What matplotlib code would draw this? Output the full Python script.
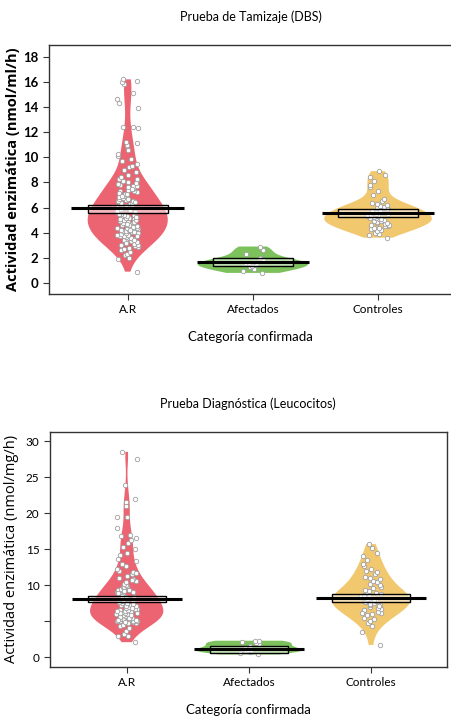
#!/usr/bin/env python3
"""Pirate-style plots (bean + points + mean line + inference band) for two enzyme assays."""
import numpy as np
import matplotlib
matplotlib.use("Agg")
import matplotlib.pyplot as plt
from matplotlib.patches import Rectangle

# ---- data ------------------------------------------------------------------
categories = ["A.R", "Afectados", "Controles"]

# Prueba de Tamizaje (DBS), nmol/ml/h
ar_dbs = [
    0.9, 1.9, 2.0, 2.2, 2.3, 2.5, 2.6, 2.7, 2.8, 2.9, 2.95, 3.0,
    3.05, 3.1, 3.2, 3.25, 3.3, 3.35, 3.4, 3.5, 3.55, 3.6, 3.65, 3.7,
    3.75, 3.8, 3.85, 3.9, 3.95, 4.0, 4.05, 4.1, 4.15, 4.2, 4.25, 4.3,
    4.35, 4.4, 4.45, 4.5, 4.55, 4.6, 4.65, 4.7, 4.75, 4.8, 4.85, 4.9,
    4.95, 5.0, 5.05, 5.1, 5.15, 5.2, 5.25, 5.3, 5.35, 5.4, 5.45, 5.5,
    5.55, 5.6, 5.65, 5.7, 5.75, 5.8, 5.85, 5.9, 5.95, 6.0, 6.05, 6.1,
    6.15, 6.2, 6.25, 6.3, 6.35, 6.4, 6.5, 6.55, 6.6, 6.7, 6.75, 6.8,
    6.9, 7.0, 7.05, 7.1, 7.2, 7.3, 7.35, 7.4, 7.5, 7.6, 7.7, 7.75,
    7.8, 7.9, 8.0, 8.1, 8.2, 8.3, 8.4, 8.6, 8.8, 9.0, 9.2, 9.3,
    9.5, 9.7, 9.9, 10.1, 10.3, 10.6, 10.9, 11.0, 11.1, 11.2, 12.3, 12.4,
    12.4, 13.9, 14.3, 14.6, 15.1, 15.8, 16.0, 16.1, 16.2,
    3.15, 3.45, 4.12, 4.38, 4.62, 4.88, 5.12, 5.38, 5.62, 5.88, 6.12,
    4.02, 4.48, 5.02, 5.48, 6.02, 6.45, 3.72, 4.22, 4.72, 5.22, 5.72,
    7.15, 7.45, 7.65, 7.95, 8.25, 6.65, 6.95,
]
afect_dbs = [0.8, 0.95, 1.1, 1.25, 1.35, 1.45, 1.55, 1.6, 1.7, 1.8, 1.95, 2.3, 2.6, 2.9]
ctrl_dbs = [
    3.6, 3.8, 3.9, 4.0, 4.1, 4.2, 4.3, 4.35, 4.4, 4.5, 4.55, 4.6,
    4.65, 4.7, 4.75, 4.8, 4.85, 4.9, 4.95, 5.0, 5.05, 5.1, 5.15, 5.2,
    5.25, 5.3, 5.35, 5.4, 5.45, 5.5, 5.55, 5.6, 5.65, 5.7, 5.8, 5.85,
    5.9, 6.0, 6.05, 6.1, 6.2, 6.3, 6.4, 6.5, 6.7, 7.0, 7.3,
    7.6, 7.8, 8.1, 8.4, 8.6, 8.9,
]
dbs_mean = [5.95, 1.67, 5.55]
dbs_low = [5.6, 1.35, 5.23]
dbs_high = [6.2, 2.0, 5.87]

# Prueba Diagnóstica (Leucocitos), nmol/mg/h
ar_leu = [
    2.1, 2.9, 3.0, 3.2, 3.6, 4.0, 4.3, 4.5, 4.7, 4.8, 4.9, 5.0,
    5.0, 5.1, 5.1, 5.2, 5.2, 5.3, 5.3, 5.4, 5.5, 5.6, 5.7, 5.8,
    5.9, 5.95, 6.0, 6.05, 6.1, 6.2, 6.3, 6.35, 6.4, 6.5, 6.6, 6.7,
    6.75, 6.8, 6.9, 7.0, 7.1, 7.15, 7.2, 7.3, 7.4, 7.5, 7.55, 7.6,
    7.7, 7.8, 7.9, 8.0, 8.1, 8.2, 8.3, 8.4, 8.5, 8.6, 8.7, 8.8,
    8.9, 9.0, 9.1, 9.2, 9.3, 9.4, 9.5, 9.6, 9.7, 9.8, 9.9, 8.05,
    5.05, 5.25, 5.45, 5.65, 5.85, 6.15, 6.45, 6.85, 4.95, 5.15,
    8.45, 8.85, 9.25, 10.0, 10.2, 10.4, 10.6, 10.9,
    11.0, 11.3, 11.5, 11.8, 10.7, 11.7,
    12.0, 12.2, 12.7, 13.0, 13.3, 13.7, 14.2, 14.5,
    15.0, 15.3, 15.9, 16.3, 16.6, 16.8, 17.0, 18.0, 19.4, 19.5, 21.0,
    21.5, 21.9, 23.9, 27.5, 28.5,
]
afect_leu = [0.4, 0.6, 0.75, 0.85, 0.95, 1.05, 1.2, 1.35, 1.5, 1.8, 2.0, 2.1, 2.2, 2.3]
ctrl_leu = [
    1.7, 3.5, 4.3, 4.8, 5.0, 5.3, 5.5, 5.8, 6.0, 6.2, 6.3, 6.5,
    6.7, 6.9, 7.0, 7.2, 7.3, 7.5, 7.6, 7.8, 7.9, 8.0, 8.1, 8.2,
    8.3, 8.4, 8.5, 8.6, 8.7, 8.8, 8.9, 9.0, 9.2, 9.4, 9.6, 9.8,
    10.0, 10.2, 10.4, 10.6, 10.8, 11.0, 11.2, 11.5, 11.8, 12.0, 12.3, 12.7,
    13.0, 13.5, 14.0, 14.5, 15.1, 15.7,
    7.1, 7.4, 7.7, 8.15, 8.45, 6.6, 6.1,
]
leu_mean = [8.04, 1.1, 8.27]
leu_low = [7.63, 0.55, 7.7]
leu_high = [8.55, 1.57, 8.8]

COLORS = ["#EC6471", "#7CC15C", "#F2C86F"]
TICKF = ["Lato", "DejaVu Sans"]
LABEL = ["Open Sans", "DejaVu Sans"]


def spread(n, half=0.085):
    # deterministic horizontal scatter for the points (display only)
    i = np.arange(1, n + 1)
    frac = (np.sin(i * 12.9898) * 43758.5453) % 1.0
    return (frac - 0.5) * 2 * half


def draw_panel(ax, groups, means, lows, highs, widths, bws):
    pos = np.arange(1, len(groups) + 1)
    for p, vals, w, bw, c in zip(pos, groups, widths, bws, COLORS):
        parts = ax.violinplot([vals], positions=[p], widths=w, bw_method=bw,
                              showextrema=False)
        for body in parts["bodies"]:
            body.set_facecolor(c)
            body.set_edgecolor("none")
            body.set_alpha(1)
            body.set_zorder(1)
        ax.plot(p + spread(len(vals)), vals, "o", ms=3.2, mfc="white",
                mec="#a0a0a0", mew=0.6, zorder=2)

    for p, m, lo, hi in zip(pos, means, lows, highs):
        ax.add_patch(Rectangle((p - 0.32, lo), 0.64, hi - lo,
                               facecolor="white", alpha=0.55, zorder=3))
        ax.add_patch(Rectangle((p - 0.32, lo), 0.64, hi - lo,
                               facecolor="none", edgecolor="black",
                               lw=1.0, zorder=4))
        ax.plot([p - 0.45, p + 0.45], [m, m], color="black", lw=2.2,
                solid_capstyle="butt", zorder=5)

    ax.set_xticks(pos)
    ax.set_xticklabels(categories, family=TICKF, fontsize=8.5)
    ax.tick_params(length=4, width=0.8, color="#333333")


fig = plt.figure(figsize=(4.52, 7.17), dpi=100)

# --- top panel ---
ax1 = fig.add_axes([0.1084, 0.59, 0.8916, 0.3472])
draw_panel(ax1, [ar_dbs, afect_dbs, ctrl_dbs], dbs_mean, dbs_low, dbs_high,
           widths=[0.64, 0.88, 0.86], bws=[0.3, 0.55, 0.35])
ax1.set_xlim(0.371, 3.591)
ax1.set_ylim(-0.875, 18.93)
ax1.set_yticks(range(0, 19, 2))
ax1.set_yticklabels([str(v) for v in range(0, 19, 2)], family=TICKF,
                    fontsize=9.5, fontweight="bold")
ax1.spines["right"].set_visible(False)
ax1.set_title("Prueba de Tamizaje (DBS)", family=TICKF, fontsize=9, pad=17)
ax1.set_ylabel("Actividad enzimática (nmol/ml/h)", family=LABEL,
               fontsize=10.5, fontweight="bold", labelpad=2)
ax1.set_xlabel("Categoría confirmada", family=TICKF, fontsize=9.5, labelpad=11)

# --- bottom panel ---
ax2 = fig.add_axes([0.1106, 0.0697, 0.8777, 0.3282])
draw_panel(ax2, [ar_leu, afect_leu, ctrl_leu], leu_mean, leu_low, leu_high,
           widths=[0.6, 0.87, 0.64], bws=[0.28, 0.6, 0.45])
ax2.set_xlim(0.372, 3.62)
ax2.set_ylim(-1.35, 31.29)
ax2.set_yticks([0, 5, 10, 15, 20, 25, 30])
ax2.set_yticklabels(["0", "", "10", "15", "20", "25", "30"], family=TICKF,
                    fontsize=8.5)
ax2.set_title("Prueba Diagnóstica (Leucocitos)", family=TICKF, fontsize=9,
              pad=17)
ax2.set_ylabel("Actividad enzimática (nmol/mg/h)", family=LABEL,
               fontsize=10.5, labelpad=5)
ax2.set_xlabel("Categoría confirmada", family=TICKF, fontsize=9.5, labelpad=11)

for ax in (ax1, ax2):
    for s in ax.spines.values():
        s.set_linewidth(1.0)
        s.set_color("#333333")

fig.savefig("out.png", dpi=100)
